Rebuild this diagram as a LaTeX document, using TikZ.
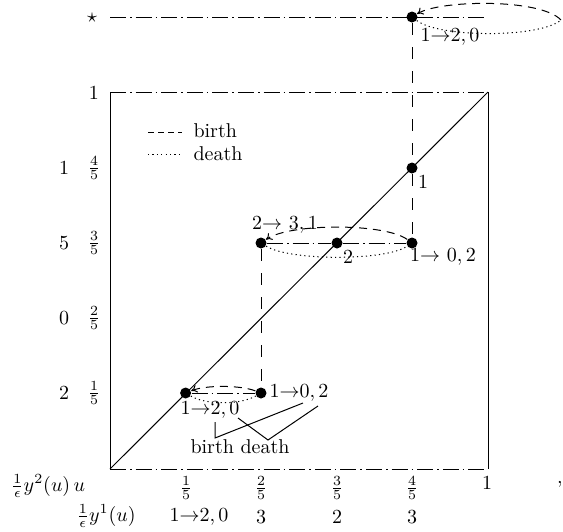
\documentclass[tikz,border=0pt]{standalone}
\usetikzlibrary{arrows.meta}
\begin{document}
\begin{tikzpicture}[x=0.5pt,y=-0.5pt,line width=0.5pt,
  dashdot/.style={dash pattern=on 8pt off 2pt on 0.8pt off 2pt},
  vdash/.style={dash pattern=on 6pt off 6pt},
  arcdash/.style={dash pattern=on 4pt off 3pt},
  arcdot/.style={dash pattern=on 0.6pt off 1.6pt},
  legdash/.style={dash pattern=on 3pt off 2pt},
  pt/.style={circle,fill=black,inner sep=0pt,minimum size=5.5pt},
  lbl/.style={inner sep=0pt},
  arr/.style={-{To[length=3pt,width=4pt]}}]
\useasboundingbox (0,0) rectangle (563,531);
% box corners
\coordinate (O) at (110,469);
\coordinate (X1) at (488,469);
\coordinate (Y1) at (110,92);
\coordinate (C) at (488,92);
\draw (O) -- (Y1);
\draw (X1) -- (C);
\draw[dashdot] (Y1) -- (C);
\draw[dashdot] (O) -- (X1);
\draw (O) -- (C);
% star line
\coordinate (S0) at (110,17);
\node[pt] (T) at (412,17) {};
\coordinate (S1) at (488,17);
\draw[dashdot] (S0) -- (S1);
% dots
\node[pt] (D4) at (412,168) {};
\node[pt] (L3) at (261,243) {};
\node[pt] (M3) at (337,243) {};
\node[pt] (R3) at (412,243) {};
\node[pt] (A1) at (185.6,393) {};
\node[pt] (B1) at (261,393) {};
% vertical dashed
\draw[vdash] (T) -- (D4);
\draw[vdash] (D4) -- (R3);
\draw[vdash] (L3) -- (B1);
% horizontal dash-dot
\draw[dashdot] (L3) -- (M3) -- (R3);
\draw[dashdot] (A1) -- (B1);
% top loop
\coordinate (E) at (561,20);
\draw[arcdash,arr] (E) .. controls (540,-2) and (440,0) .. (T);
\draw[arcdot] (T) .. controls (440,38) and (540,38) .. (E);
% middle loop
\draw[arcdash,arr] (R3) .. controls (385,223) and (290,223) .. (L3);
\draw[arcdot] (L3) .. controls (290,261) and (385,261) .. (R3);
% bottom loop
\draw[arcdash,arr] (B1) .. controls (240,385) and (206,385) .. (A1);
\draw[arcdot] (A1) .. controls (206,405) and (240,405) .. (B1);
% point labels
\node[lbl] (lt) at (450,37) {$1{\to}2,0$};
\node[lbl] (l4) at (423,182) {$1$};
\node[lbl] (l23) at (285,225) {$2{\to}\ 3,1$};
\node[lbl] (l2) at (348,257) {$2$};
\node[lbl] (l10a) at (443,257) {$1{\to}\ 0,2$};
\node[lbl] (l10b) at (299,393) {$1{\to}0,2$};
\node[lbl] (l12) at (210,410) {$1{\to}2,0$};
\node[lbl] (bd) at (240,447) {birth death};
% connectors
\coordinate (b0) at (215,422);
\coordinate (b1) at (215,438);
\coordinate (b2) at (303,403);
\coordinate (d0) at (238,418);
\coordinate (d1) at (268,440);
\coordinate (d2) at (318,406);
\draw (b0) -- (b1) -- (b2);
\draw (d0) -- (d1) -- (d2);
% legend
\coordinate (lg1a) at (148,132);
\coordinate (lg1b) at (182,132);
\coordinate (lg2a) at (148,154);
\coordinate (lg2b) at (182,154);
\draw[legdash] (lg1a) -- (lg1b);
\draw[arcdot] (lg2a) -- (lg2b);
\node[lbl,anchor=west] (lb) at (193,131) {birth};
\node[lbl,anchor=west] (ld) at (193,154) {death};
% left axis labels
\node[lbl] (st) at (92,18) {$\star$};
\node[lbl] (y1) at (94,93) {$1$};
\node[lbl] (n4) at (64,168) {$1$};
\node[lbl] (f4) at (94,168) {$\frac{4}{5}$};
\node[lbl] (n3) at (64,243) {$5$};
\node[lbl] (f3) at (94,243) {$\frac{3}{5}$};
\node[lbl] (n2) at (64,318) {$0$};
\node[lbl] (f2) at (94,318) {$\frac{2}{5}$};
\node[lbl] (n1) at (64,393) {$2$};
\node[lbl] (f1) at (94,393) {$\frac{1}{5}$};
% bottom labels
\node[lbl] (ylab2) at (48,486) {$\frac{1}{\epsilon}y^2(u)\,u$};
\node[lbl] (bx1) at (186,488) {$\frac{1}{5}$};
\node[lbl] (bx2) at (261,488) {$\frac{2}{5}$};
\node[lbl] (bx3) at (337,488) {$\frac{3}{5}$};
\node[lbl] (bx4) at (412,488) {$\frac{4}{5}$};
\node[lbl] (bx5) at (487,483) {$1$};
\node[lbl] (cm) at (560,484) {$,$};
\node[lbl] (ylab1) at (106,516) {$\frac{1}{\epsilon}y^1(u)$};
\node[lbl] (c1) at (199,517) {$1{\to}2,0$};
\node[lbl] (c2) at (261,517) {$3$};
\node[lbl] (c3) at (337,517) {$2$};
\node[lbl] (c4) at (412,517) {$3$};
\end{tikzpicture}
\end{document}
